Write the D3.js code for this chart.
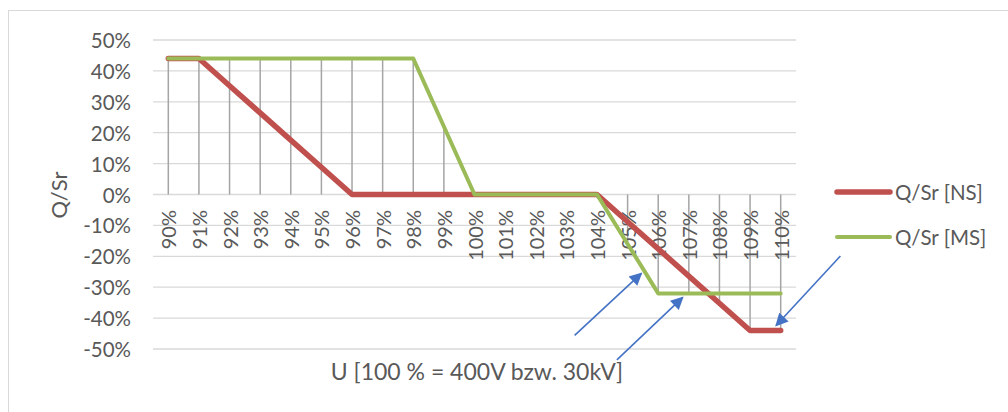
<!DOCTYPE html>
<html>
<head>
<meta charset="utf-8">
<script src="https://cdn.jsdelivr.net/npm/d3@7"></script>
<style>
  body { margin: 0; background: #fff; }
  text { font-family: Lato, "Open Sans", sans-serif; fill: #595959; }
</style>
</head>
<body>
<svg id="chart" width="1008" height="412"></svg>
<script>
// categories: voltage in % of nominal
const categories = ["90%", "91%", "92%", "93%", "94%", "95%", "96%", "97%", "98%", "99%", "100%",
  "101%", "102%", "103%", "104%", "105%", "106%", "107%", "108%", "109%", "110%"];
// Q/Sr in %
const ns_values = [44, 44, 35.2, 26.4, 17.6, 8.8, 0, 0, 0, 0, 0, 0, 0, 0, 0, -8.8, -17.6, -26.4, -35.2, -44, -44];
const ms_values = [44, 44, 44, 44, 44, 44, 44, 44, 44, 22, 0, 0, 0, 0, 0, -16, -32, -32, -32, -32, -32];
const y_ticks = [50, 40, 30, 20, 10, 0, -10, -20, -30, -40, -50];
const series_names = ["Q/Sr [NS]", "Q/Sr [MS]"];
// annotation arrows in data units: [from index, from value, to index, to value]
const arrows = [
  [13.27, -45.6, 15.45, -25.5],
  [14.65, -53.5, 16.8, -33.3],
  [21.95, -19.9, 19.85, -42.4]
];

const width = 1008, height = 412;
const svg = d3.select("#chart");

// chart area border
svg.append("rect")
  .attr("x", 8.5).attr("y", 10.5)
  .attr("width", 1010).attr("height", 420)
  .attr("fill", "none")
  .attr("stroke", "#d9d9d9")
  .attr("stroke-width", 1);

const x = d3.scaleBand()
  .domain(categories)
  .range([153, 796])
  .padding(0);

const y = d3.scaleLinear()
  .domain([-50, 50])
  .range([349, 40]);

const xc = d => x(d) + x.bandwidth() / 2;
const xi = i => x(categories[0]) + x.bandwidth() * (i + 0.5);

// gridlines
svg.append("g")
  .selectAll("line")
  .data(y_ticks)
  .join("line")
    .attr("x1", 153).attr("x2", 796)
    .attr("y1", d => y(d)).attr("y2", d => y(d))
    .attr("stroke", "#d9d9d9")
    .attr("stroke-width", 1.3);

// y axis labels
svg.append("g")
  .selectAll("text")
  .data(y_ticks)
  .join("text")
    .attr("x", 131)
    .attr("y", d => y(d))
    .attr("text-anchor", "end")
    .attr("dominant-baseline", "central")
    .attr("font-size", 20.5)
    .text(d => d + "%");

// drop lines
const drops = categories.map((c, i) => {
  const vals = [0, ns_values[i], ms_values[i]];
  return { c, lo: d3.min(vals), hi: d3.max(vals) };
}).filter(d => d.hi !== d.lo);

svg.append("g")
  .selectAll("line")
  .data(drops)
  .join("line")
    .attr("x1", d => xc(d.c)).attr("x2", d => xc(d.c))
    .attr("y1", d => y(d.hi)).attr("y2", d => y(d.lo))
    .attr("stroke", "#a5a5a5")
    .attr("stroke-width", 1.5);

// x axis labels (rotated)
svg.append("g")
  .selectAll("text")
  .data(categories)
  .join("text")
    .attr("transform", d => `translate(${xc(d)}, 210) rotate(-90)`)
    .attr("text-anchor", "end")
    .attr("dominant-baseline", "central")
    .attr("font-size", 20)
    .text(d => d);

// series lines
const line = d3.line()
  .x((d, i) => xc(categories[i]))
  .y(d => y(d));

svg.append("path")
  .attr("d", line(ns_values))
  .attr("fill", "none")
  .attr("stroke", "#c0504d")
  .attr("stroke-width", 5.5)
  .attr("stroke-linejoin", "round")
  .attr("stroke-linecap", "round");

svg.append("path")
  .attr("d", line(ms_values))
  .attr("fill", "none")
  .attr("stroke", "#9bbb59")
  .attr("stroke-width", 4)
  .attr("stroke-linejoin", "round")
  .attr("stroke-linecap", "round");

// axis titles
svg.append("text")
  .attr("transform", "translate(58, 195) rotate(-90)")
  .attr("text-anchor", "middle")
  .attr("dominant-baseline", "central")
  .attr("font-size", 22)
  .text("Q/Sr");

svg.append("text")
  .attr("x", 477)
  .attr("y", 371)
  .attr("text-anchor", "middle")
  .attr("dominant-baseline", "central")
  .attr("font-size", 23)
  .text("U [100 % = 400V bzw. 30kV]");

// legend
const legend = svg.append("g")
  .selectAll("g")
  .data(series_names)
  .join("g")
    .attr("transform", (d, i) => `translate(837, ${192 + i * 45})`);

legend.append("line")
  .attr("x1", 0).attr("x2", 53)
  .attr("y1", 0).attr("y2", 0)
  .attr("stroke", (d, i) => i === 0 ? "#c0504d" : "#9bbb59")
  .attr("stroke-width", (d, i) => i === 0 ? 5.5 : 4)
  .attr("stroke-linecap", "round");

legend.append("text")
  .attr("x", 58)
  .attr("y", 0)
  .attr("dominant-baseline", "central")
  .attr("font-size", 20.5)
  .text(d => d);

// arrows
svg.append("defs").append("marker")
  .attr("id", "arrowhead")
  .attr("viewBox", "0 0 10 10")
  .attr("refX", 9).attr("refY", 5)
  .attr("markerWidth", 9).attr("markerHeight", 8)
  .attr("markerUnits", "strokeWidth")
  .attr("orient", "auto")
  .append("path")
    .attr("d", "M0,0L10,5L0,10z")
    .attr("fill", "#4472c4");

svg.append("g")
  .selectAll("line")
  .data(arrows)
  .join("line")
    .attr("x1", d => xi(d[0])).attr("y1", d => y(d[1]))
    .attr("x2", d => xi(d[2])).attr("y2", d => y(d[3]))
    .attr("stroke", "#4472c4")
    .attr("stroke-width", 1.6)
    .attr("marker-end", "url(#arrowhead)");
</script>
</body>
</html>
